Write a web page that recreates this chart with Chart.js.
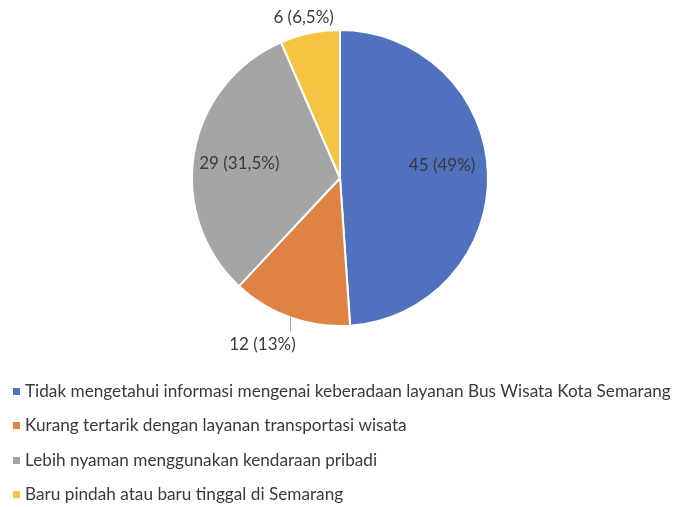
<!DOCTYPE html>
<html>
<head>
<meta charset="utf-8">
<script src="https://cdn.jsdelivr.net/npm/chart.js@4/dist/chart.umd.min.js"></script>
<style>
html,body{margin:0;padding:0;background:#fff;}
canvas{display:block;}
</style>
</head>
<body>
<canvas id="c" width="680" height="507"></canvas>
<script>
const categories = [
  "Tidak mengetahui informasi mengenai keberadaan layanan Bus Wisata Kota Semarang",
  "Kurang tertarik dengan layanan transportasi wisata",
  "Lebih nyaman menggunakan kendaraan pribadi",
  "Baru pindah atau baru tinggal di Semarang"
];
const counts = [45, 12, 29, 6];
const percentLabels = ["49%", "13%", "31,5%", "6,5%"];
const colors = ["#4F71BE", "#DF8344", "#A5A5A5", "#F5C342"];

const FONT = "Lato";
const LABEL_SIZE = 17;
const LEGEND_SIZE = 17.2;
const TEXT = "#3A3A3A";

const labelPlugin = {
  id: 'pieLabels',
  afterDraw(chart) {
    const ctx = chart.ctx;
    const meta = chart.getDatasetMeta(0);
    ctx.save();
    ctx.font = LABEL_SIZE + "px " + FONT;
    ctx.fillStyle = TEXT;
    ctx.textBaseline = "middle";
    meta.data.forEach((arc, i) => {
      const txt = counts[i] + " (" + percentLabels[i] + ")";
      const mid = (arc.startAngle + arc.endAngle) / 2;
      const R = arc.outerRadius;
      const cx = arc.x, cy = arc.y;
      ctx.textAlign = "center";
      if (i === 0) {
        const r = R * 0.69;
        ctx.fillText(txt, cx + r * Math.cos(mid), cy + r * Math.sin(mid) - 9);
      } else if (i === 2) {
        const r = R * 0.69;
        ctx.fillText(txt, cx + r * Math.cos(mid), cy + r * Math.sin(mid) + 3);
      } else if (i === 3) {
        const r = R + 16;
        ctx.fillText(txt, cx + r * Math.cos(mid) - 3, cy + r * Math.sin(mid));
      } else if (i === 1) {
        const x0 = cx + R * Math.cos(mid), y0 = cy + R * Math.sin(mid);
        ctx.strokeStyle = "#A6A6A6";
        ctx.lineWidth = 1;
        ctx.beginPath();
        ctx.moveTo(Math.round(x0) + 0.5, y0);
        ctx.lineTo(Math.round(x0) + 0.5, y0 + 14);
        ctx.stroke();
        ctx.fillText(txt, x0 - 28, y0 + 27);
      }
    });
    // legend
    ctx.font = LEGEND_SIZE + "px " + FONT;
    ctx.textAlign = "left";
    const rowY = [391, 425, 460, 494];
    categories.forEach((c, i) => {
      ctx.fillStyle = colors[i];
      ctx.fillRect(13, rowY[i] - 3, 7, 7);
      ctx.fillStyle = TEXT;
      ctx.fillText(c, 25, rowY[i]);
    });
    ctx.restore();
  }
};

new Chart(document.getElementById('c'), {
  type: 'pie',
  data: {
    labels: categories,
    datasets: [{
      data: counts,
      backgroundColor: colors,
      borderColor: "#FFFFFF",
      borderWidth: 2
    }]
  },
  options: {
    responsive: false,
    animation: false,
    layout: { padding: { top: 29, bottom: 180, left: 0, right: 0 } },
    plugins: {
      legend: { display: false },
      tooltip: { enabled: false }
    }
  },
  plugins: [labelPlugin]
});
</script>
</body>
</html>
